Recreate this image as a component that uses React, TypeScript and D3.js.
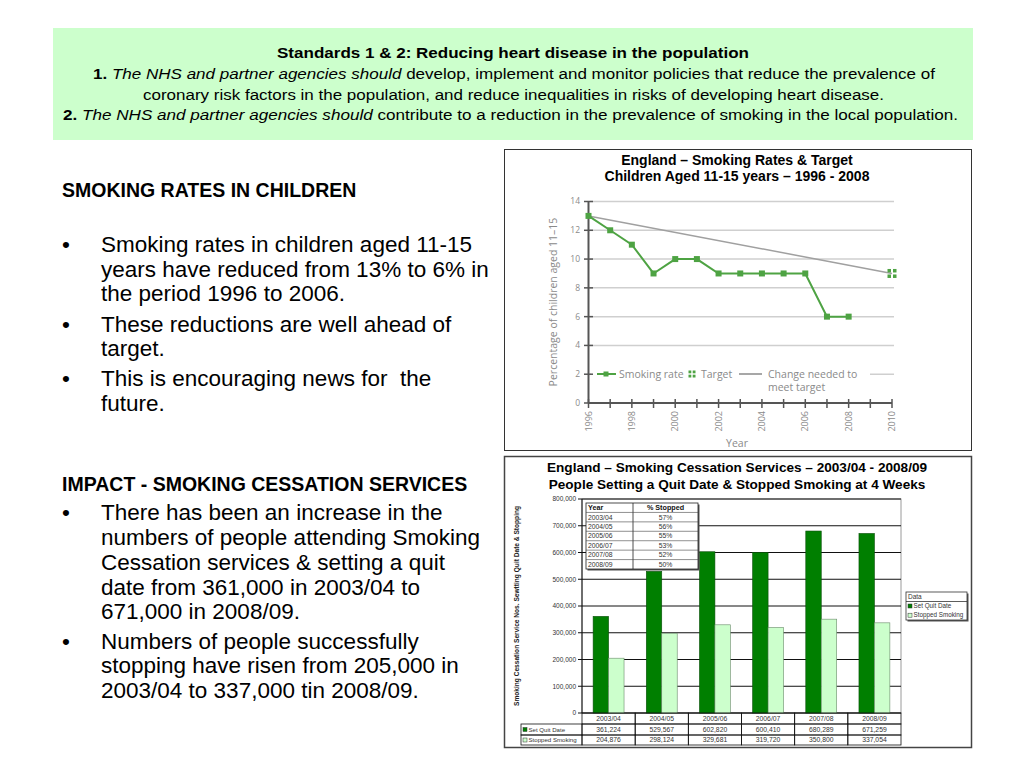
import React from "react";
import * as d3 from "d3";

// ---------- Data: chart 1 (smoking rates in children) ----------
const rateYears = [1996, 1997, 1998, 1999, 2000, 2001, 2002, 2003, 2004, 2005, 2006, 2007, 2008];
const smokingRate = [13, 12, 11, 9, 10, 10, 9, 9, 9, 9, 9, 6, 6];
const changeYears = [1996, 2010];
const changeNeeded = [13, 9];
const targetYears = [2010];
const targetValues = [9];
const rateYTicks = [0, 2, 4, 6, 8, 10, 12, 14];
const rateXTickYears = [1996, 1997, 1998, 1999, 2000, 2001, 2002, 2003, 2004, 2005, 2006, 2007, 2008, 2009, 2010];
const rateXLabelYears = [1996, 1998, 2000, 2002, 2004, 2006, 2008, 2010];

// ---------- Data: chart 2 (smoking cessation services) ----------
const periods = ["2003/04", "2004/05", "2005/06", "2006/07", "2007/08", "2008/09"];
const setQuitDate = [361224, 529567, 602820, 600410, 680289, 671259];
const stoppedSmoking = [204876, 298124, 329681, 319720, 350800, 337054];
const pctStopped = ["57%", "56%", "55%", "53%", "52%", "50%"];
const cessYTicks = [0, 100000, 200000, 300000, 400000, 500000, 600000, 700000, 800000];
const seriesNames = ["Set Quit Date", "Stopped Smoking"];

const GREEN = "#4ea343";
const DARK = "#007f00";
const LIGHT = "#ccffcc";
const ARIAL = "'Liberation Sans', Arial, sans-serif";
const SOFT = "'Open Sans', 'Noto Sans', sans-serif";

function RateChart() {
  const x = d3.scaleLinear().domain([1996, 2010]).range([588.5, 892]);
  const y = d3.scaleLinear().domain([0, 14]).range([403, 201.5]);
  const line = d3.line<number>().x((_, i) => x(rateYears[i])).y((d) => y(d));
  const changeLine = d3.line<number>().x((_, i) => x(changeYears[i])).y((d) => y(d));
  const grey = "#8a8a8a";
  return (
    <g>
      <rect x={504.5} y={149.5} width={467} height={301} fill="#fff" stroke="#333" strokeWidth={1} />
      <text x={737} y={165} textAnchor="middle" fontFamily={ARIAL} fontWeight="bold" fontSize={14} fill="#000">
        England – Smoking Rates &amp; Target
      </text>
      <text x={737} y={181} textAnchor="middle" fontFamily={ARIAL} fontWeight="bold" fontSize={14} fill="#000">
        Children Aged 11-15 years – 1996 - 2008
      </text>
      {rateYTicks.filter((t) => t > 0).map((t) => (
        <line key={"g" + t} x1={590} x2={894} y1={y(t)} y2={y(t)} stroke="#cfcfcf" strokeWidth={1.5} />
      ))}
      {/* legend background hides grid line */}
      <rect x={591} y={365} width={279} height={27} fill="#fff" />
      {/* y axis */}
      <line x1={x(1996)} x2={x(1996)} y1={y(14)} y2={y(0)} stroke="#555" strokeWidth={2} />
      {rateYTicks.map((t) => (
        <g key={"yt" + t}>
          <line x1={584} x2={593} y1={y(t)} y2={y(t)} stroke="#555" strokeWidth={1.5} />
          <text x={580} y={y(t)} dy="0.35em" textAnchor="end" fontFamily={SOFT} fontSize={8.5} fill={grey}>
            {t}
          </text>
        </g>
      ))}
      {/* x axis */}
      <line x1={x(1996)} x2={x(2010)} y1={y(0)} y2={y(0)} stroke="#555" strokeWidth={2} />
      {rateXTickYears.map((yr) => (
        <line key={"xt" + yr} x1={x(yr)} x2={x(yr)} y1={399} y2={408} stroke="#555" strokeWidth={1.5} />
      ))}
      {rateXLabelYears.map((yr) => (
        <text
          key={"xl" + yr}
          transform={`translate(${x(yr)},411) rotate(-90)`}
          dy="0.35em"
          textAnchor="end"
          fontFamily={SOFT}
          fontSize={9}
          fill={grey}
        >
          {yr}
        </text>
      ))}
      <text x={737} y={447} textAnchor="middle" fontFamily={SOFT} fontSize={10.5} fill={grey}>
        Year
      </text>
      <text
        transform={`translate(557,302) rotate(-90)`}
        textAnchor="middle"
        fontFamily={SOFT}
        fontSize={10.5}
        fill={grey}
      >
        Percentage of children aged 11–15
      </text>
      {/* change needed line */}
      <path d={changeLine(changeNeeded) || ""} fill="none" stroke="#a0a0a0" strokeWidth={1.5} />
      {/* smoking rate */}
      <path d={line(smokingRate) || ""} fill="none" stroke={GREEN} strokeWidth={2} />
      {smokingRate.map((v, i) => (
        <rect key={"m" + i} x={x(rateYears[i]) - 3} y={y(v) - 3} width={6} height={6} fill={GREEN} />
      ))}
      {/* target */}
      {targetValues.map((v, i) => (
        <g key={"t" + i} transform={`translate(${x(targetYears[i])},${y(v)})`}>
          <rect x={-4.5} y={-4.5} width={3.5} height={3.5} fill={GREEN} />
          <rect x={1} y={-4.5} width={3.5} height={3.5} fill={GREEN} />
          <rect x={-4.5} y={1} width={3.5} height={3.5} fill={GREEN} />
          <rect x={1} y={1} width={3.5} height={3.5} fill={GREEN} />
        </g>
      ))}
      {/* legend */}
      <line x1={597} x2={616} y1={374} y2={374} stroke={GREEN} strokeWidth={2} />
      <rect x={603.5} y={371.5} width={5} height={5} fill={GREEN} />
      <text x={619} y={374} dy="0.35em" fontFamily={SOFT} fontSize={10.5} fill={grey}>
        Smoking rate
      </text>
      <g transform="translate(692,374)">
        <rect x={-3.5} y={-3.5} width={2.8} height={2.8} fill={GREEN} />
        <rect x={0.7} y={-3.5} width={2.8} height={2.8} fill={GREEN} />
        <rect x={-3.5} y={0.7} width={2.8} height={2.8} fill={GREEN} />
        <rect x={0.7} y={0.7} width={2.8} height={2.8} fill={GREEN} />
      </g>
      <text x={701} y={374} dy="0.35em" fontFamily={SOFT} fontSize={10.5} fill={grey}>
        Target
      </text>
      <line x1={739} x2={762} y1={374} y2={374} stroke="#8a8a8a" strokeWidth={1.5} />
      <text x={768} y={374} dy="0.35em" fontFamily={SOFT} fontSize={10.5} fill={grey}>
        Change needed to
      </text>
      <text x={768} y={387} dy="0.35em" fontFamily={SOFT} fontSize={10.5} fill={grey}>
        meet target
      </text>
    </g>
  );
}

function CessationChart() {
  const x = d3.scaleBand<string>().domain(periods).range([582, 901]).paddingInner(0).paddingOuter(0);
  const sub = d3.scaleBand<string>().domain(seriesNames).range([0, x.bandwidth()]).paddingInner(0).paddingOuter(0.72);
  const y = d3.scaleLinear().domain([0, 800000]).range([713, 499]);
  const fmt = d3.format(",");
  const series = [setQuitDate, stoppedSmoking];
  const fills = [DARK, LIGHT];
  const fs = 6.8;
  const rowTop = [713, 724, 735];
  const rowH = [11, 11, 10];
  const insetX0 = 586;
  const insetX1 = 698;
  const insetMid = 633;
  const insetY0 = 503;
  const insetRow = 9.43;
  return (
    <g>
      <rect x={504.5} y={456.5} width={467} height={291} fill="#fff" stroke="#444" strokeWidth={1.5} />
      <text x={737} y={472} textAnchor="middle" fontFamily={ARIAL} fontWeight="bold" fontSize={13.6} fill="#000">
        England – Smoking Cessation Services – 2003/04 - 2008/09
      </text>
      <text x={737} y={489} textAnchor="middle" fontFamily={ARIAL} fontWeight="bold" fontSize={13.6} fill="#000">
        People Setting a Quit Date &amp; Stopped Smoking at 4 Weeks
      </text>
      {/* plot area */}
      <rect x={582} y={499} width={319} height={214} fill="#fff" stroke="#9a9a9a" strokeWidth={1} />
      {cessYTicks.map((t) => (
        <g key={"g" + t}>
          <line x1={582} x2={901} y1={y(t)} y2={y(t)} stroke="#111" strokeWidth={1} />
          <line x1={578} x2={582} y1={y(t)} y2={y(t)} stroke="#111" strokeWidth={1} />
          <text x={576} y={y(t)} dy="0.35em" textAnchor="end" fontFamily={ARIAL} fontSize={6.5} fill="#333">
            {fmt(t)}
          </text>
        </g>
      ))}
      <line x1={582} x2={582} y1={499} y2={713} stroke="#111" strokeWidth={1} />
      <text
        transform="translate(519,606) rotate(-90)"
        textAnchor="middle"
        fontFamily={ARIAL}
        fontWeight="bold"
        fontSize={6.6}
        fill="#222"
      >
        Smoking Cessation Service Nos. Sewtting Quit Date &amp; Stopping
      </text>
      {/* bars */}
      {periods.map((p, i) =>
        series.map((s, j) => (
          <rect
            key={p + j}
            x={(x(p) || 0) + (sub(seriesNames[j]) || 0)}
            y={y(s[i])}
            width={sub.bandwidth()}
            height={y(0) - y(s[i])}
            fill={fills[j]}
            stroke={j === 0 ? "#0b4f0b" : "#6a8a6a"}
            strokeWidth={0.6}
          />
        ))
      )}
      {/* inset table */}
      <rect x={insetX0 + 1.5} y={insetY0 + 1.5} width={insetX1 - insetX0} height={insetRow * 7} fill="#555" />
      <rect x={insetX0} y={insetY0} width={insetX1 - insetX0} height={insetRow * 7} fill="#fff" stroke="#222" strokeWidth={0.8} />
      <line x1={insetMid} x2={insetMid} y1={insetY0} y2={insetY0 + insetRow * 7} stroke="#222" strokeWidth={0.8} />
      {d3.range(1, 7).map((r) => (
        <line key={"ir" + r} x1={insetX0} x2={insetX1} y1={insetY0 + insetRow * r} y2={insetY0 + insetRow * r} stroke="#444" strokeWidth={0.6} />
      ))}
      <text x={insetX0 + 2} y={insetY0 + insetRow * 0.5} dy="0.35em" fontFamily={ARIAL} fontWeight="bold" fontSize={7.2} fill="#111">
        Year
      </text>
      <text x={(insetMid + insetX1) / 2} y={insetY0 + insetRow * 0.5} dy="0.35em" textAnchor="middle" fontFamily={ARIAL} fontWeight="bold" fontSize={7.2} fill="#111">
        % Stopped
      </text>
      {periods.map((p, i) => (
        <g key={"ins" + p}>
          <text x={insetX0 + 2} y={insetY0 + insetRow * (i + 1.5)} dy="0.35em" fontFamily={ARIAL} fontSize={fs} fill="#333">
            {p}
          </text>
          <text x={(insetMid + insetX1) / 2} y={insetY0 + insetRow * (i + 1.5)} dy="0.35em" textAnchor="middle" fontFamily={ARIAL} fontSize={fs} fill="#333">
            {pctStopped[i]}
          </text>
        </g>
      ))}
      {/* data table */}
      {periods.map((p, i) => (
        <g key={"dt" + p}>
          {rowTop.map((ty, r) => (
            <rect key={r} x={x(p) || 0} y={ty} width={x.bandwidth()} height={rowH[r]} fill="none" stroke="#111" strokeWidth={0.8} />
          ))}
          <text x={(x(p) || 0) + x.bandwidth() / 2} y={rowTop[0] + rowH[0] / 2} dy="0.35em" textAnchor="middle" fontFamily={ARIAL} fontSize={fs} fill="#333">
            {p}
          </text>
          {series.map((s, j) => (
            <text key={j} x={(x(p) || 0) + x.bandwidth() / 2} y={rowTop[j + 1] + rowH[j + 1] / 2} dy="0.35em" textAnchor="middle" fontFamily={ARIAL} fontSize={fs} fill="#333">
              {fmt(s[i])}
            </text>
          ))}
        </g>
      ))}
      {seriesNames.map((n, j) => (
        <g key={"lab" + n}>
          <rect x={521} y={rowTop[j + 1]} width={61} height={rowH[j + 1]} fill="none" stroke="#111" strokeWidth={0.8} />
          <rect x={523} y={rowTop[j + 1] + rowH[j + 1] / 2 - 2} width={4} height={4} fill={fills[j]} stroke="#333" strokeWidth={0.5} />
          <text x={528.5} y={rowTop[j + 1] + rowH[j + 1] / 2} dy="0.35em" fontFamily={ARIAL} fontSize={6.1} fill="#333">
            {n}
          </text>
        </g>
      ))}
      {/* legend */}
      <rect x={907.5} y={593.5} width={61} height={28} fill="#555" />
      <rect x={906} y={592} width={61} height={28} fill="#fff" stroke="#333" strokeWidth={0.8} />
      <line x1={906} x2={967} y1={601.5} y2={601.5} stroke="#333" strokeWidth={0.8} />
      <text x={908} y={597} dy="0.35em" fontFamily={ARIAL} fontSize={6.5} fill="#333">
        Data
      </text>
      {seriesNames.map((n, j) => (
        <g key={"leg" + n}>
          <rect x={908} y={604 + j * 9.2} width={4} height={4} fill={fills[j]} stroke="#333" strokeWidth={0.5} />
          <text x={913.5} y={606 + j * 9.2} dy="0.35em" fontFamily={ARIAL} fontSize={6.3} fill="#333">
            {n}
          </text>
        </g>
      ))}
    </g>
  );
}

function Bullet({ y }: { y: number }) {
  return (
    <text x={62} y={y} fontFamily={ARIAL} fontSize={22.5} fill="#000">
      •
    </text>
  );
}

function LeftText() {
  const body = { fontFamily: ARIAL, fontSize: 22.5, fill: "#000" } as const;
  const tx = 101;
  const lines1 = [
    "Smoking rates in children aged 11-15",
    "years have reduced from 13% to 6% in",
    "the period 1996 to 2006.",
    "These reductions are well ahead of",
    "target.",
    "This is encouraging news for  the",
    "future.",
  ];
  const ys1 = [252, 276.5, 301, 331.5, 356, 386, 410.5];
  const lines2 = [
    "There has been an increase in the",
    "numbers of people attending Smoking",
    "Cessation services & setting a quit",
    "date from 361,000 in 2003/04 to",
    "671,000 in 2008/09.",
    "Numbers of people successfully",
    "stopping have risen from 205,000 in",
    "2003/04 to 337,000 tin 2008/09.",
  ];
  const ys2 = [520, 545, 569.5, 594.5, 619, 648.5, 673, 698];
  return (
    <g>
      <text x={62} y={196.5} fontFamily={ARIAL} fontWeight="bold" fontSize={19.5} fill="#000">
        SMOKING RATES IN CHILDREN
      </text>
      {[0, 3, 5].map((i) => <Bullet key={"b1" + i} y={ys1[i]} />)}
      {lines1.map((l, i) => (
        <text key={"l1" + i} x={tx} y={ys1[i]} {...body} style={{ whiteSpace: "pre" }}>
          {l}
        </text>
      ))}
      <text x={62} y={491} fontFamily={ARIAL} fontWeight="bold" fontSize={19.5} fill="#000">
        IMPACT - SMOKING CESSATION SERVICES
      </text>
      {[0, 5].map((i) => <Bullet key={"b2" + i} y={ys2[i]} />)}
      {lines2.map((l, i) => (
        <text key={"l2" + i} x={tx} y={ys2[i]} {...body}>
          {l}
        </text>
      ))}
    </g>
  );
}

function Header() {
  const common = {
    fontFamily: ARIAL,
    fontSize: 15.5,
    fill: "#000",
    lengthAdjust: "spacingAndGlyphs",
  };
  return (
    <g>
      <rect x={53} y={28} width={920} height={112} fill="#ccffcc" />
      <text x={277} y={58} {...common} textLength={472} fontWeight="bold">
        Standards 1 &amp; 2: Reducing heart disease in the population
      </text>
      <text x={93} y={79} {...common} textLength={842}>
        <tspan fontWeight="bold">1. </tspan>
        <tspan fontStyle="italic">The NHS and partner agencies should</tspan>
        <tspan> develop, implement and monitor policies that reduce the prevalence of</tspan>
      </text>
      <text x={143} y={100} {...common} textLength={741}>
        coronary risk factors in the population, and reduce inequalities in risks of developing heart disease.
      </text>
      <text x={63} y={120} {...common} textLength={895}>
        <tspan fontWeight="bold">2. </tspan>
        <tspan fontStyle="italic">The NHS and partner agencies should</tspan>
        <tspan> contribute to a reduction in the prevalence of smoking in the local population.</tspan>
      </text>
    </g>
  );
}

export default function App() {
  return (
    <div style={{ position: "absolute", left: 0, top: 0 }}>
      <svg width={1024} height={768} viewBox="0 0 1024 768" style={{ display: "block", background: "#fff" }}>
        <rect x={0} y={0} width={1024} height={768} fill="#fff" />
        <Header />
        <LeftText />
        <RateChart />
        <CessationChart />
      </svg>
    </div>
  );
}
